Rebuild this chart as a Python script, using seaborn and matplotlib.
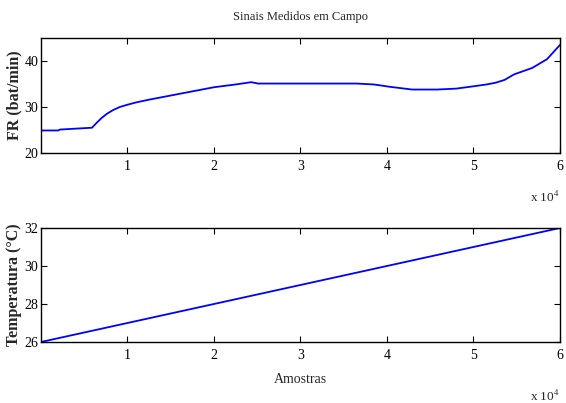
import matplotlib
matplotlib.use("Agg")
import matplotlib.pyplot as plt
from matplotlib.ticker import FuncFormatter
import seaborn as sns
import pandas as pd

# Frequência respiratória medida em campo (amostra, bat/min)
fr_amostras = [0, 2000, 2200, 5900, 6400, 7000, 7600, 8300, 9100, 10000, 11000,
               12500, 15000, 17500, 20000, 22500, 24300, 25100, 30000, 36500,
               38500, 40300, 42900, 45800, 48000, 50000, 51500, 52600, 53600,
               54700, 56800, 58500, 60000]
fr_valores = [24.9, 24.9, 25.1, 25.5, 26.5, 27.6, 28.5, 29.3, 30.0, 30.5, 31.0,
              31.6, 32.5, 33.4, 34.3, 34.9, 35.4, 35.1, 35.1, 35.1,
              34.9, 34.4, 33.8, 33.8, 34.0, 34.5, 34.9, 35.3, 35.9,
              37.1, 38.5, 40.4, 43.5]

# Temperatura medida em campo (amostra, °C)
temp_amostras = [0, 60000]
temp_valores = [26.0, 32.0]

fr_ticks = [20, 30, 40]
temp_ticks = [26, 28, 30, 32]
x_ticks = [10000, 20000, 30000, 40000, 50000, 60000]

sns.set_style("ticks")
plt.rcParams["font.family"] = ["Liberation Serif", "DejaVu Serif"]
plt.rcParams["mathtext.fontset"] = "stix"

fig = plt.figure(figsize=(5.66, 4.03), dpi=100)
ax1 = fig.add_axes([0.0724, 0.6203, 0.917, 0.2854])
ax2 = fig.add_axes([0.0724, 0.1514, 0.917, 0.2829])

df_fr = pd.DataFrame({"amostra": fr_amostras, "fr": fr_valores})
df_temp = pd.DataFrame({"amostra": temp_amostras, "temp": temp_valores})

sns.lineplot(data=df_fr, x="amostra", y="fr", ax=ax1, color="#0000ff", lw=1.3)
sns.lineplot(data=df_temp, x="amostra", y="temp", ax=ax2, color="#0000ff", lw=1.3)

fmt = FuncFormatter(lambda v, p: f"{v / 1e4:g}")
for ax, ylim, yt, off in [(ax1, (20, 45), fr_ticks, -32),
                          (ax2, (26, 32), temp_ticks, -39)]:
    ax.set_xlim(0, 60000)
    ax.set_ylim(*ylim)
    ax.set_xticks(x_ticks)
    ax.set_yticks(yt)
    ax.xaxis.set_major_formatter(fmt)
    ax.tick_params(axis="both", direction="in", length=4, width=0.8,
                   top=True, right=True, labelsize=10, colors="black")
    ax.tick_params(axis="x", pad=5)
    ax.tick_params(axis="y", pad=2)
    for s in ax.spines.values():
        s.set_visible(True)
        s.set_linewidth(1.0)
        s.set_color("black")
    ax.set_xlabel("")
    # scale factor of the sample axis
    ax.annotate(r"x 10$^4$", xy=(1.0, 0.0), xycoords="axes fraction",
                xytext=(0, off), textcoords="offset points",
                ha="right", va="center", fontsize=9.5)

ax1.set_ylabel("FR (bat/min)", fontsize=11.5, fontweight="bold")
ax2.set_ylabel("Temperatura (°C)", fontsize=11.5, fontweight="bold")
ax1.yaxis.set_label_coords(-0.036, 0.5)
ax2.yaxis.set_label_coords(-0.036, 0.5)
ax2.set_xlabel("Amostras", fontsize=10, labelpad=8)
ax1.set_title("Sinais Medidos em Campo", fontsize=9, pad=13)

fig.savefig("out.png", dpi=100)
